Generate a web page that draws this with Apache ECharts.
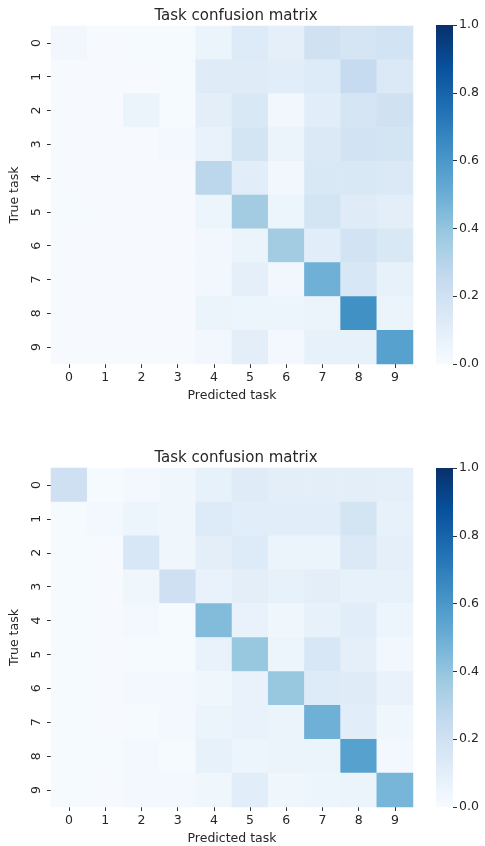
<!DOCTYPE html>
<html>
<head>
<meta charset="utf-8">
<script src="https://cdn.jsdelivr.net/npm/echarts@6/dist/echarts.min.js"></script>
<style>html,body{margin:0;padding:0;background:#fff;}#c{width:485px;height:846px;}</style>
</head>
<body>
<div id="c"></div>
<script>
var tasks = ['0','1','2','3','4','5','6','7','8','9'];
var colorbarTicks = [0, 0.2, 0.4, 0.6, 0.8, 1.0];
var titleText = 'Task confusion matrix';
var xName = 'Predicted task';
var yName = 'True task';

// rows = true task, columns = predicted task
var matrixTop = [
  [0.03, 0.005, 0.01, 0.01, 0.06, 0.13, 0.09, 0.20, 0.17, 0.19],
  [0.005, 0.005, 0.005, 0.01, 0.12, 0.12, 0.11, 0.13, 0.25, 0.14],
  [0.005, 0.005, 0.06, 0.01, 0.10, 0.15, 0.03, 0.11, 0.17, 0.20],
  [0.005, 0.005, 0.005, 0.02, 0.07, 0.18, 0.06, 0.14, 0.19, 0.18],
  [0.005, 0.005, 0.005, 0.005, 0.28, 0.11, 0.03, 0.15, 0.15, 0.14],
  [0.01, 0.005, 0.005, 0.005, 0.05, 0.36, 0.05, 0.18, 0.12, 0.10],
  [0.005, 0.005, 0.005, 0.005, 0.03, 0.06, 0.36, 0.11, 0.19, 0.15],
  [0.005, 0.005, 0.005, 0.005, 0.03, 0.09, 0.03, 0.49, 0.16, 0.08],
  [0.005, 0.005, 0.005, 0.005, 0.06, 0.05, 0.05, 0.06, 0.63, 0.06],
  [0.005, 0.005, 0.005, 0.005, 0.03, 0.10, 0.02, 0.08, 0.08, 0.56]
];
var matrixBottom = [
  [0.21, 0.01, 0.02, 0.04, 0.08, 0.12, 0.10, 0.10, 0.10, 0.09],
  [0.01, 0.02, 0.05, 0.04, 0.13, 0.11, 0.11, 0.11, 0.18, 0.08],
  [0.01, 0.005, 0.16, 0.04, 0.10, 0.13, 0.06, 0.06, 0.14, 0.09],
  [0.01, 0.005, 0.04, 0.21, 0.07, 0.10, 0.08, 0.10, 0.08, 0.08],
  [0.01, 0.005, 0.02, 0.01, 0.44, 0.07, 0.04, 0.08, 0.11, 0.05],
  [0.01, 0.005, 0.01, 0.01, 0.07, 0.39, 0.05, 0.16, 0.09, 0.03],
  [0.01, 0.005, 0.02, 0.02, 0.04, 0.07, 0.39, 0.13, 0.12, 0.07],
  [0.01, 0.005, 0.01, 0.02, 0.06, 0.07, 0.06, 0.49, 0.11, 0.04],
  [0.01, 0.01, 0.02, 0.01, 0.08, 0.05, 0.06, 0.06, 0.56, 0.02],
  [0.01, 0.005, 0.02, 0.02, 0.04, 0.11, 0.04, 0.05, 0.06, 0.47]
];

var blues = ['#f7fbff','#deebf7','#c6dbef','#9ecae1','#6baed6','#4292c6','#2171b5','#08519c','#08306b'];

function toCells(m) {
  var out = [];
  for (var r = 0; r < m.length; r++)
    for (var c = 0; c < m[r].length; c++) out.push([c, r, m[r][c]]);
  return out;
}

var FONT = 'DejaVu Sans';
var TXT = '#262626';
var FS = 12.5;

function heatX(gi) {
  return {
    type: 'category', gridIndex: gi, data: tasks, position: 'bottom',
    name: xName, nameLocation: 'middle', nameGap: 25, nameMoveOverlap: false,
    nameTextStyle: {fontFamily: FONT, fontSize: FS, color: TXT},
    axisLine: {show: false}, splitLine: {show: false},
    axisTick: {show: true, alignWithLabel: true, length: 4, lineStyle: {color: '#333'}},
    axisLabel: {fontFamily: FONT, fontSize: FS, color: TXT, margin: 7}
  };
}
function heatY(gi) {
  return {
    type: 'category', gridIndex: gi, data: tasks, inverse: true,
    name: yName, nameLocation: 'middle', nameGap: 30, nameRotate: 90, nameMoveOverlap: false,
    nameTextStyle: {fontFamily: FONT, fontSize: FS, color: TXT},
    axisLine: {show: false}, splitLine: {show: false},
    axisTick: {show: true, alignWithLabel: true, length: 4, lineStyle: {color: '#333'}},
    axisLabel: {fontFamily: FONT, fontSize: FS, color: TXT, rotate: 90, margin: 8}
  };
}
function cbX(gi) {
  return {type: 'category', gridIndex: gi, data: ['cb'], show: false};
}
function cbY(gi) {
  return {
    type: 'value', gridIndex: gi, min: colorbarTicks[0], max: colorbarTicks[colorbarTicks.length - 1],
    interval: 0.2, position: 'right',
    axisLine: {show: false}, splitLine: {show: false},
    axisTick: {show: true, length: 4, lineStyle: {color: '#333'}},
    axisLabel: {fontFamily: FONT, fontSize: FS, color: TXT, margin: 6,
      formatter: function (v) { return v.toFixed(1); }}
  };
}
function gradient() {
  var stops = [];
  for (var i = 0; i < blues.length; i++)
    stops.push({offset: i / (blues.length - 1), color: blues[blues.length - 1 - i]});
  return new echarts.graphic.LinearGradient(0, 0, 0, 1, stops);
}

var chart = echarts.init(document.getElementById('c'), null, {renderer: 'canvas'});
chart.setOption({
  backgroundColor: '#fff',
  animation: false,
  title: [
    {text: titleText, left: 231, top: 4, textAlign: 'center',
      textStyle: {fontFamily: FONT, fontSize: 15, fontWeight: 'normal', color: TXT}},
    {text: titleText, left: 231, top: 446, textAlign: 'center',
      textStyle: {fontFamily: FONT, fontSize: 15, fontWeight: 'normal', color: TXT}}
  ],
  grid: [
    {left: 49, top: 26, width: 364, height: 338},
    {left: 49, top: 468, width: 364, height: 339},
    {left: 436, top: 25, width: 17, height: 339},
    {left: 436, top: 468, width: 17, height: 339}
  ],
  xAxis: [heatX(0), heatX(1), cbX(2), cbX(3)],
  yAxis: [heatY(0), heatY(1), cbY(2), cbY(3)],
  visualMap: [
    {type: 'continuous', show: false, min: 0, max: 1, seriesIndex: 0, inRange: {color: blues}},
    {type: 'continuous', show: false, min: 0, max: 1, seriesIndex: 1, inRange: {color: blues}}
  ],
  series: [
    {type: 'heatmap', xAxisIndex: 0, yAxisIndex: 0, data: toCells(matrixTop), itemStyle: {borderWidth: 0}},
    {type: 'heatmap', xAxisIndex: 1, yAxisIndex: 1, data: toCells(matrixBottom), itemStyle: {borderWidth: 0}},
    {type: 'bar', xAxisIndex: 2, yAxisIndex: 2, data: [1], barWidth: '100%', itemStyle: {color: gradient()}, silent: true},
    {type: 'bar', xAxisIndex: 3, yAxisIndex: 3, data: [1], barWidth: '100%', itemStyle: {color: gradient()}, silent: true}
  ]
});
</script>
</body>
</html>
